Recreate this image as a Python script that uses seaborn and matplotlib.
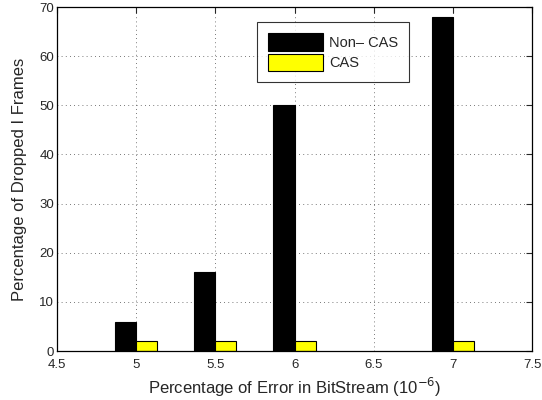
import matplotlib
matplotlib.use("Agg")
import matplotlib.pyplot as plt
import seaborn as sns
import pandas as pd

error_pct = [5, 5.5, 6, 7]
non_cas = [6, 16, 50, 68]
cas = [2, 2, 2, 2]
series_names = ["Non\u2013 CAS", "CAS"]
xticks = [4.5, 5, 5.5, 6, 6.5, 7, 7.5]
xtick_labels = ["4.5", "5", "5.5", "6", "6.5", "7", "7.5"]
yticks = [0, 10, 20, 30, 40, 50, 60, 70]

sns.set_style("white")
plt.rcParams['font.family'] = ['Liberation Sans', 'DejaVu Sans']

df = pd.DataFrame({
    "x": error_pct * 2,
    "y": non_cas + cas,
    "series": [series_names[0]] * len(error_pct) + [series_names[1]] * len(error_pct),
})

fig = plt.figure(figsize=(5.42, 4.0), dpi=100)
ax = fig.add_axes([0.105, 0.1225, 0.877, 0.86])

sns.barplot(data=df, x="x", y="y", hue="series", native_scale=True,
            palette=["black", "#ffff00"], saturation=1, width=0.533, edgecolor="black",
            linewidth=0.8, ax=ax, errorbar=None, gap=0)

ax.set_xlim(4.5, 7.5)
ax.set_ylim(0, 70)
ax.set_xticks(xticks)
ax.set_xticklabels(xtick_labels)
ax.set_yticks(yticks)
ax.tick_params(direction="in", top=True, right=True, labelsize=9.5, length=4, width=0.8, pad=2)
ax.tick_params(axis="x", pad=6)
ax.grid(True, linestyle=(0, (1, 4)), color="black", linewidth=0.6, alpha=0.7)
ax.set_axisbelow(True)
for s in ax.spines.values():
    s.set_linewidth(0.9)
    s.set_color("black")

ax.set_xlabel("Percentage of Error in BitStream (10$^{-6}$)", fontsize=12, labelpad=3)
ax.set_ylabel("Percentage of Dropped I Frames", fontsize=12, labelpad=9)

leg = ax.legend(loc="upper left", bbox_to_anchor=(0.405, 0.978), fontsize=10.5,
                handlelength=3.8, handleheight=1.5, handletextpad=0.4, frameon=True,
                fancybox=False, edgecolor="black", borderpad=0.75, labelspacing=0.2)
leg.get_frame().set_linewidth(0.8)

fig.savefig("out.png", dpi=100)
